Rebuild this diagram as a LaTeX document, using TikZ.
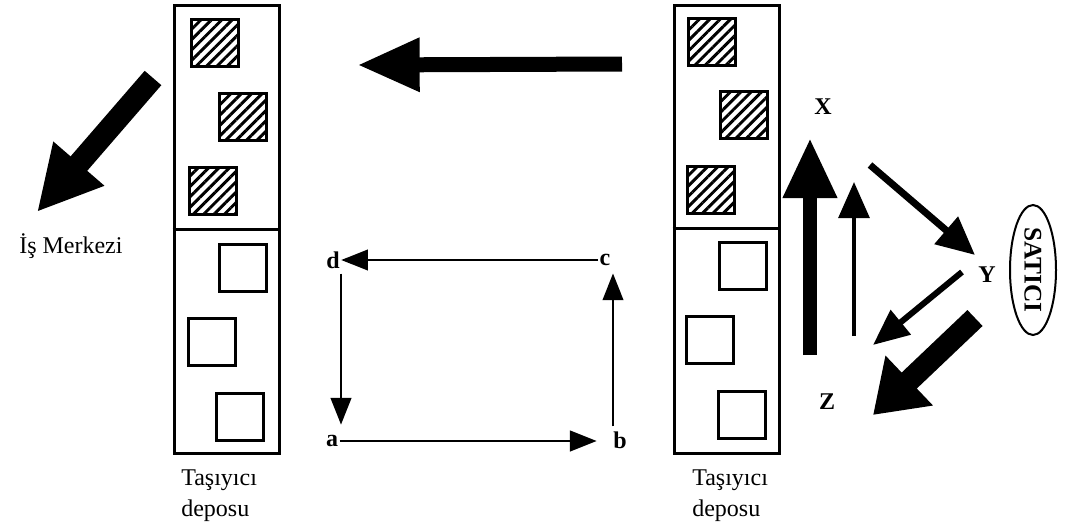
\documentclass[tikz,border=0pt]{standalone}
\usepackage{fontspec}
\setmainfont{Liberation Serif}
\usetikzlibrary{arrows.meta,patterns.meta,shapes.geometric,calc}
\tikzset{
  col/.style={draw, line width=2.25pt, minimum width=78.75pt, minimum height=336pt, inner sep=0pt},
  colline/.style={line width=2.25pt},
  sqbox/.style={draw, line width=2.25pt, minimum size=35.25pt, inner sep=0pt},
  hsq/.style={sqbox, pattern={Lines[angle=45, distance=5.5pt, line width=2.2pt]}},
  esq/.style={sqbox, fill=white},
  lbl/.style={font=\fontsize{18}{20}\selectfont\bfseries, inner sep=1pt},
  xyz/.style={font=\fontsize{18}{20}\selectfont\bfseries, inner sep=1pt},
  txt/.style={font=\fontsize{18}{23.25}\selectfont, inner sep=0pt, align=left},
  thinarr/.style={line width=1.5pt, -{Triangle[length=20pt, width=15.5pt]}},
  fat/.style n args={3}{line width=#1, -{Triangle[length=#2, width=#3]}},
}
\begin{document}
\begin{tikzpicture}[x=0.75pt, y=-0.75pt]
\useasboundingbox (0,0) rectangle (1065,532);

% columns
\node[col] (L) at (226.5,229) {};
\draw[colline] (L.west) -- (L.east);
\node[col] (R) at (726.5,229) {};
\draw[colline] ([yshift=0.75pt]R.west) -- ([yshift=0.75pt]R.east);

% left column squares
\node[hsq] (L1) at (214.5,43) {};
\node[hsq] (L2) at (243,117) {};
\node[hsq] (L3) at (213,191) {};
\node[esq] (L4) at (242.5,267.5) {};
\node[esq] (L5) at (212,341.5) {};
\node[esq] (L6) at (240,417) {};

% right column squares
\node[hsq] (R1) at (712,41.5) {};
\node[hsq] (R2) at (744,115) {};
\node[hsq] (R3) at (711,189.5) {};
\node[esq] (R4) at (743,266) {};
\node[esq] (R5) at (710,340) {};
\node[esq] (R6) at (742,415) {};

% labels under columns
\node[txt, anchor=north west] (TL) at (181,470) {Taşıyıcı\\deposu};
\node[txt, anchor=north west] (TR) at (692,470) {Taşıyıcı\\deposu};

% Is Merkezi
\node[txt, anchor=base west] (IM) at (19,253) {İş Merkezi};

% big arrows
\coordinate (topT) at (622,64);
\coordinate (topH) at (357,65);
\draw[fat={11.25pt}{47pt}{37.5pt}] (topT) -- (topH);

\coordinate (lT) at (153,78);
\coordinate (lH) at (37,212);
\draw[fat={16.5pt}{48pt}{47pt}] (lT) -- (lH);

% rectangle a b c d
\node[lbl] (d) at (333,260) {d};
\node[lbl] (c) at (605,260) {c};
\node[lbl] (a) at (332,441) {a};
\node[lbl] (b) at (620,440) {b};
\draw[thinarr] (c.west) -- (d.east);
\draw[thinarr, shorten <=2.6pt, shorten >=6.8pt] ($(d.south)+(8,0)$) -- ($(a.north)+(9,0)$);
\draw[thinarr, shorten >=11.3pt] (a.east) -- (a.east -| b.west);
\draw[thinarr, shorten <=2.6pt, shorten >=4.6pt] ($(b.north)+(-7,0)$) -- ($(c.south)+(8,0)$);

% right side
\node[xyz] (X) at (823,107) {X};
\node[xyz] (Y) at (987,275) {Y};
\node[xyz] (Z) at (827,402) {Z};
\node[ellipse, draw, line width=1.5pt, rotate=-90, minimum width=97.5pt, minimum height=34.5pt, inner sep=0pt, font=\fontsize{19}{20}\selectfont\bfseries] (sat) at (1033,270) {SATICI};

\coordinate (u1T) at (810,355);
\coordinate (u1H) at (810,138);
\draw[fat={10.5pt}{45pt}{38pt}] (u1T) -- (u1H);

\coordinate (u2T) at (854,336);
\coordinate (u2H) at (854,182);
\draw[fat={3pt}{27pt}{23pt}] (u2T) -- (u2H);

\coordinate (xyT) at (870,165);
\coordinate (xyH) at (975,255);
\draw[fat={5.25pt}{28.5pt}{26pt}] (xyT) -- (xyH);

\coordinate (yzT) at (962,272);
\coordinate (yzH) at (873,345);
\draw[fat={4.5pt}{27pt}{23pt}] (yzT) -- (yzH);

\coordinate (zT) at (975,318);
\coordinate (zH) at (873,415);
\draw[fat={16.5pt}{37.5pt}{49pt}] (zT) -- (zH);
\end{tikzpicture}
\end{document}
